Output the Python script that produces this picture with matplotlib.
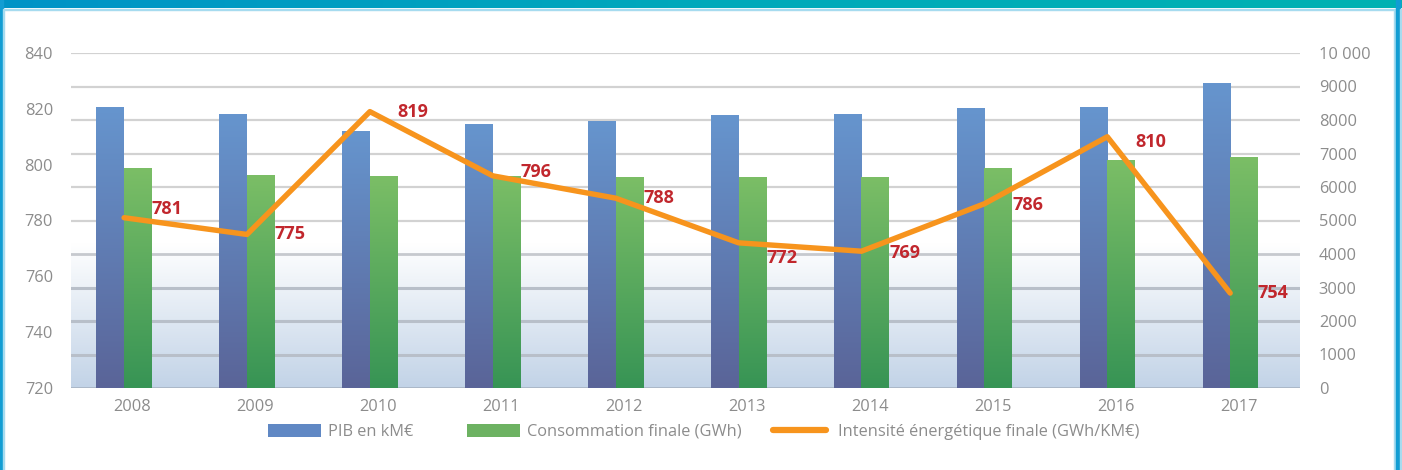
import numpy as np
import matplotlib
matplotlib.use("Agg")
import matplotlib.pyplot as plt
from matplotlib.colors import LinearSegmentedColormap
from matplotlib.patches import Rectangle, Patch
from matplotlib.lines import Line2D

# ---- data ----
years = ["2008", "2009", "2010", "2011", "2012", "2013", "2014", "2015", "2016", "2017"]
pib = [8360, 8150, 7670, 7880, 7970, 8120, 8150, 8330, 8360, 9080]          # kM€
conso = [6540, 6330, 6300, 6300, 6270, 6270, 6270, 6540, 6780, 6870]        # GWh
intensite = [781, 775, 819, 796, 788, 772, 769, 786, 810, 754]             # GWh/KM€
left_ticks = [720, 740, 760, 780, 800, 820, 840]
right_ticks = [0, 1000, 2000, 3000, 4000, 5000, 6000, 7000, 8000, 9000, 10000]
right_tick_labels = ["0", "1000", "2000", "3000", "4000", "5000", "6000",
                     "7000", "8000", "9000", "10 000"]
legend_labels = ["PIB en kM€", "Consommation finale (GWh)",
                 "Intensité énergétique finale (GWh/KM€)"]

plt.rcParams["font.family"] = ["Open Sans", "DejaVu Sans"]
GREY = "#8c8c8c"
ORANGE = "#f7941d"
RED = "#c1272d"
FS = 11.8

W_PX, H_PX = 1402, 470
fig = plt.figure(figsize=(W_PX / 100, H_PX / 100), dpi=100)
fig.patch.set_facecolor("white")

# plot area
L, R, T, B = 71, 1300, 53, 388
rect = [L / W_PX, 1 - B / H_PX, (R - L) / W_PX, (B - T) / H_PX]
ax = fig.add_axes(rect)          # left axis: intensity line
ax2 = ax.twinx()                 # right axis: bars
ax.set_zorder(ax2.get_zorder() + 1)
ax.patch.set_visible(False)

x = np.arange(len(years))
shift = -0.068                   # bar groups sit slightly left of the year ticks
xc = x + shift
ax.set_xlim(-0.5, len(years) - 0.5)

# soft blue gradient at the bottom of the plot area
bg_cmap = LinearSegmentedColormap.from_list("bg", ["#c2d3e7", "#ffffff"])
grad = np.linspace(0, 1, 256).reshape(-1, 1)
ax2.imshow(grad, cmap=bg_cmap, extent=[0, 1, 0, 0.43], transform=ax2.transAxes,
           aspect="auto", origin="lower", zorder=0)

# gridlines
for v in right_ticks:
    if v == 0:
        ax2.axhline(v, color="#a9b5c5", lw=2.0, zorder=0.6)
    elif v <= 3000:
        ax2.axhline(v, color="#b8bfc9", lw=2.2, zorder=0.6)
    elif v == 4000:
        ax2.axhline(v, color="#c6c9ce", lw=2.0, zorder=0.6)
    else:
        ax2.axhline(v, color="#d2d2d2", lw=1.6, zorder=0.6)

# bars with vertical gradient
bw = 0.225
blue_cmap = LinearSegmentedColormap.from_list("b", ["#5a6498", "#6695ce"])
green_cmap = LinearSegmentedColormap.from_list("g", ["#379455", "#7bbe66"])
bars_pib = ax2.bar(xc - bw / 2, pib, bw, color="#6088c4", zorder=2, linewidth=0)
bars_conso = ax2.bar(xc + bw / 2, conso, bw, color="#6db262", zorder=2, linewidth=0)
for bars, cmap in ((bars_pib, blue_cmap), (bars_conso, green_cmap)):
    for p in bars:
        x0, y0 = p.get_x(), p.get_y()
        ax2.imshow(grad, cmap=cmap, origin="lower", aspect="auto",
                   extent=[x0, x0 + p.get_width(), y0, y0 + p.get_height()],
                   zorder=2.1, clip_path=p, clip_on=True)

ax2.set_xlim(-0.5, len(years) - 0.5)
ax2.set_ylim(0, 10000)
ax2.set_yticks(right_ticks)
ax2.set_yticklabels(right_tick_labels)
ax2.tick_params(axis="y", length=0, pad=13.5, labelsize=FS, labelcolor=GREY)

# intensity line
ax.plot(xc, intensite, color=ORANGE, lw=3.9, solid_joinstyle="round",
        solid_capstyle="round", zorder=3)
label_dy = [6, 0, 0, 3, 0, -11, -1, -1, -4, 0]
for xi, v, dy in zip(xc, intensite, label_dy):
    ax.annotate(f"{v}", (xi, v), xytext=(20, dy), textcoords="offset points",
                ha="left", va="center", color=RED, fontweight="bold",
                fontsize=13, zorder=4)

ax.set_ylim(720, 840)
ax.set_yticks(left_ticks)
ax.tick_params(axis="y", length=0, pad=13, labelsize=FS, labelcolor=GREY)
ax.set_xticks(x)
ax.set_xticklabels(years)
ax.tick_params(axis="x", length=0, pad=8, labelsize=FS, labelcolor=GREY)

for a in (ax, ax2):
    for s in a.spines.values():
        s.set_visible(False)

# legend: one entry per block, laid out along a single row
handles = [Patch(facecolor="#6088c4", edgecolor="none"),
           Patch(facecolor="#6db262", edgecolor="none"),
           Line2D([], [], color=ORANGE, lw=4.5, solid_capstyle="round")]
entry_left = [268, 467, 773]
entry_pad = [0.42, 0.42, 0.75]
for h, lab, xl, tp in zip(handles, legend_labels, entry_left, entry_pad):
    fig.legend([h], [lab], loc="center left",
               bbox_to_anchor=(xl / W_PX, 1 - 432 / H_PX),
               frameon=False, borderpad=0, borderaxespad=0,
               handlelength=53 / (FS * 100 / 72), handleheight=0.8,
               handletextpad=tp, fontsize=FS, labelcolor=GREY)

# page frame: top banner and side borders
band = fig.add_axes([0, 1 - 8.5 / H_PX, 1, 8.5 / H_PX])
band_cmap = LinearSegmentedColormap.from_list("band", ["#0093c7", "#00a9bb", "#00b2b2"])
band.imshow(np.linspace(0, 1, 512).reshape(1, -1), cmap=band_cmap, aspect="auto")
band.axis("off")
fig.patches.append(Rectangle((3 / W_PX, 1 - 9.5 / H_PX), 1 - 6 / W_PX, 1 / H_PX,
                             transform=fig.transFigure, color="#a6dbef", zorder=5))
fig.patches.append(Rectangle((0, 0), 2.5 / W_PX, 1, transform=fig.transFigure,
                             color="#129dd3", zorder=5))
fig.patches.append(Rectangle((2.5 / W_PX, 0), 1 / W_PX, 1 - 8.5 / H_PX,
                             transform=fig.transFigure, color="#a6dbef", zorder=5))
fig.patches.append(Rectangle((1394 / W_PX, 0), 2 / W_PX, 1 - 8.5 / H_PX,
                             transform=fig.transFigure, color="#a6dbef", zorder=5))
fig.patches.append(Rectangle((1396 / W_PX, 0), 3.5 / W_PX, 1, transform=fig.transFigure,
                             color="#129dd3", zorder=5))
fig.patches.append(Rectangle((1399.5 / W_PX, 0), 2.5 / W_PX, 1 - 8.5 / H_PX,
                             transform=fig.transFigure, color="#a6dbef", zorder=5))

fig.savefig("out.png", dpi=100)
